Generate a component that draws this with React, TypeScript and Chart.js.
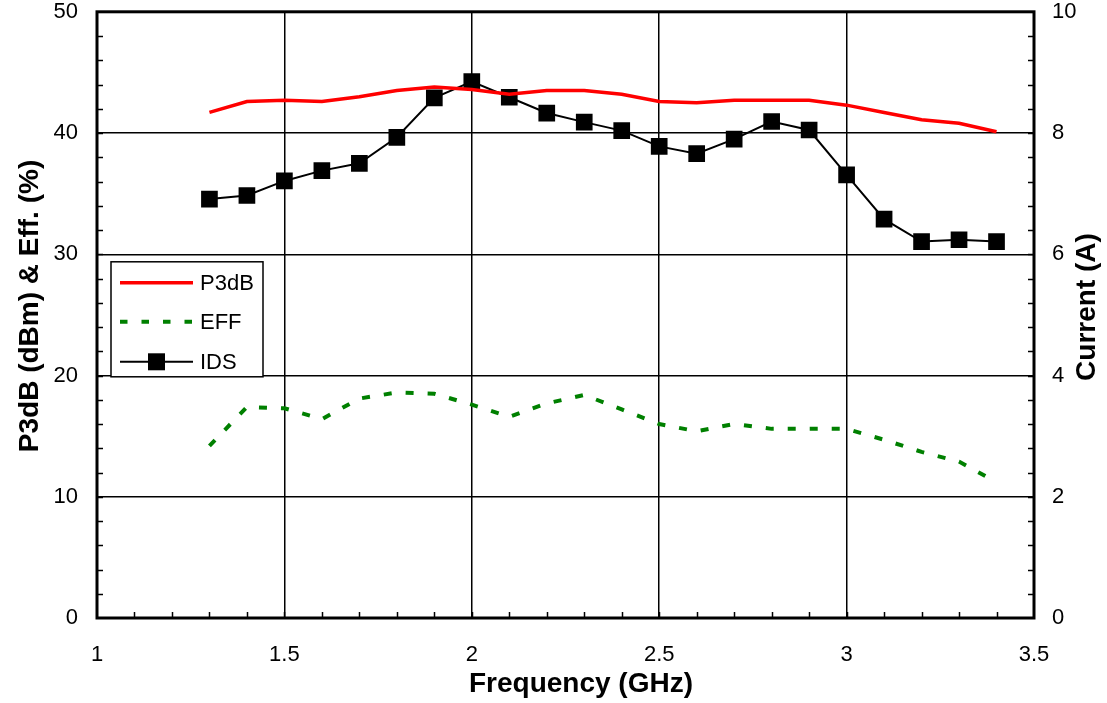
import React, { useEffect, useRef } from "react";
import { Chart, registerables } from "chart.js";

Chart.register(...registerables);

// ---- Data ----
const frequencies = [1.3, 1.4, 1.5, 1.6, 1.7, 1.8, 1.9, 2.0, 2.1, 2.2, 2.3, 2.4, 2.5, 2.6, 2.7, 2.8, 2.9, 3.0, 3.1, 3.2, 3.3, 3.4];
const p3dbValues = [41.7, 42.6, 42.7, 42.6, 43.0, 43.5, 43.8, 43.6, 43.2, 43.5, 43.5, 43.2, 42.6, 42.5, 42.7, 42.7, 42.7, 42.3, 41.7, 41.1, 40.8, 40.1];
const effValues = [14.2, 17.4, 17.3, 16.4, 18.1, 18.6, 18.5, 17.6, 16.6, 17.7, 18.4, 17.2, 16.0, 15.4, 16.0, 15.6, 15.6, 15.6, 14.7, 13.7, 12.9, 11.2];
const idsValues = [6.91, 6.97, 7.21, 7.38, 7.5, 7.93, 8.58, 8.85, 8.59, 8.33, 8.18, 8.04, 7.78, 7.66, 7.9, 8.19, 8.05, 7.31, 6.58, 6.21, 6.24, 6.21];

const xTickValues = [1, 1.5, 2, 2.5, 3, 3.5];
const leftTickValues = [0, 10, 20, 30, 40, 50];
const rightTickValues = [0, 2, 4, 6, 8, 10];

const seriesNames = ["P3dB", "EFF", "IDS"];
const xTitle = "Frequency (GHz)";
const leftTitle = "P3dB (dBm) & Eff. (%)";
const rightTitle = "Current (A)";

const FONT = "'Liberation Sans', Arial, sans-serif";
const RED = "#ff0000";
const GREEN = "#008000";
const BLACK = "#000000";

const toPoints = (ys: number[]) => frequencies.map((x, i) => ({ x, y: ys[i] }));

const decorPlugin = {
  id: "decor",
  afterDatasetsDraw(chart: any) {
    const { ctx, chartArea, scales } = chart;
    const { left, right, top, bottom } = chartArea;
    ctx.save();

    // minor ticks (inward)
    ctx.strokeStyle = BLACK;
    ctx.lineWidth = 1.5;
    ctx.beginPath();
    const len = 6;
    for (let i = 1; i < 25; i++) {
      const v = 1 + i * 0.1;
      const px = Math.round(scales.x.getPixelForValue(v)) + 0.5;
      ctx.moveTo(px, bottom);
      ctx.lineTo(px, bottom - len);
    }
    for (let i = 1; i < 25; i++) {
      const v = i * 2;
      const py = Math.round(scales.y.getPixelForValue(v)) + 0.5;
      ctx.moveTo(left, py);
      ctx.lineTo(left + len, py);
      const v1 = i * 0.4;
      const py1 = Math.round(scales.y1.getPixelForValue(v1)) + 0.5;
      ctx.moveTo(right, py1);
      ctx.lineTo(right - len, py1);
    }
    ctx.stroke();

    // frame
    ctx.lineWidth = 3;
    ctx.strokeRect(left, top, right - left, bottom - top);

    // legend
    const lx = left + 14;
    const ly = top + 250;
    const lw = 152;
    const lh = 115;
    ctx.fillStyle = "#ffffff";
    ctx.fillRect(lx, ly, lw, lh);
    ctx.lineWidth = 1.5;
    ctx.strokeStyle = BLACK;
    ctx.strokeRect(lx, ly, lw, lh);

    const rows = [ly + 21, ly + 60, ly + 100];
    const sx0 = lx + 9;
    const sx1 = lx + 82;
    // P3dB
    ctx.beginPath();
    ctx.strokeStyle = RED;
    ctx.lineWidth = 3.5;
    ctx.moveTo(sx0, rows[0]);
    ctx.lineTo(sx1, rows[0]);
    ctx.stroke();
    // EFF
    ctx.beginPath();
    ctx.strokeStyle = GREEN;
    ctx.lineWidth = 4;
    ctx.setLineDash([7.5, 14]);
    ctx.moveTo(sx0, rows[1]);
    ctx.lineTo(sx1, rows[1]);
    ctx.stroke();
    ctx.setLineDash([]);
    // IDS
    ctx.beginPath();
    ctx.strokeStyle = BLACK;
    ctx.lineWidth = 2;
    ctx.moveTo(sx0, rows[2]);
    ctx.lineTo(sx1, rows[2]);
    ctx.stroke();
    ctx.fillStyle = BLACK;
    const mx = (sx0 + sx1) / 2;
    ctx.fillRect(mx - 8.5, rows[2] - 8.5, 17, 17);

    ctx.fillStyle = BLACK;
    ctx.font = `22px ${FONT}`;
    ctx.textAlign = "left";
    ctx.textBaseline = "middle";
    seriesNames.forEach((n, i) => ctx.fillText(n, lx + 89, rows[i] + 1));

    // axis titles
    ctx.font = `bold 28px ${FONT}`;
    ctx.textBaseline = "alphabetic";
    ctx.textAlign = "center";
    ctx.fillText(xTitle, 581, 692);

    ctx.save();
    ctx.translate(37.5, 306);
    ctx.rotate(-Math.PI / 2);
    ctx.fillText(leftTitle, 0, 0);
    ctx.restore();

    ctx.save();
    ctx.translate(1095, 307);
    ctx.rotate(-Math.PI / 2);
    ctx.fillText(rightTitle, 0, 0);
    ctx.restore();

    ctx.restore();
  },
};

export default function App() {
  const canvasRef = useRef<HTMLCanvasElement | null>(null);

  useEffect(() => {
    document.body.style.margin = "0";
    const canvas = canvasRef.current;
    if (!canvas) return;
    const tickFont = { family: FONT, size: 22 };
    const chart = new Chart(canvas, {
      type: "line",
      data: {
        datasets: [
          {
            label: seriesNames[0],
            data: toPoints(p3dbValues),
            borderColor: RED,
            backgroundColor: RED,
            borderWidth: 3.5,
            pointRadius: 0,
            yAxisID: "y",
            tension: 0,
          },
          {
            label: seriesNames[1],
            data: toPoints(effValues),
            borderColor: GREEN,
            backgroundColor: GREEN,
            borderWidth: 4,
            borderDash: [8, 14],
            pointRadius: 0,
            yAxisID: "y",
            tension: 0,
          },
          {
            label: seriesNames[2],
            data: toPoints(idsValues),
            borderColor: BLACK,
            backgroundColor: BLACK,
            borderWidth: 2,
            pointStyle: "rect",
            pointRadius: 11.8,
            pointBorderWidth: 0,
            pointBackgroundColor: BLACK,
            yAxisID: "y1",
            tension: 0,
          },
        ],
      },
      options: {
        animation: false,
        responsive: false,
        devicePixelRatio: 1,
        layout: { padding: { top: 1, left: 0, right: 0, bottom: 0 } },
        plugins: {
          legend: { display: false },
          tooltip: { enabled: false },
        },
        scales: {
          x: {
            type: "linear",
            min: 1,
            max: 3.5,
            afterBuildTicks: (scale: any) => {
              scale.ticks = xTickValues.map((value) => ({ value }));
            },
            afterFit: (scale: any) => {
              scale.height = 85;
            },
            ticks: {
              font: tickFont,
              color: BLACK,
              padding: 24,
              maxRotation: 0,
              callback: (v: any) => String(v),
            },
            grid: { color: BLACK, lineWidth: 1.5, drawTicks: false },
            border: { display: false },
          },
          y: {
            type: "linear",
            position: "left",
            min: 0,
            max: 50,
            afterBuildTicks: (scale: any) => {
              scale.ticks = leftTickValues.map((value) => ({ value }));
            },
            afterFit: (scale: any) => {
              scale.width = 97;
              scale.paddingTop = 0;
            },
            ticks: {
              font: tickFont,
              color: BLACK,
              padding: 19,
              callback: (v: any) => String(v),
            },
            grid: { color: BLACK, lineWidth: 1.5, drawTicks: false },
            border: { display: false },
          },
          y1: {
            type: "linear",
            position: "right",
            min: 0,
            max: 10,
            afterBuildTicks: (scale: any) => {
              scale.ticks = rightTickValues.map((value) => ({ value }));
            },
            afterFit: (scale: any) => {
              scale.width = 73;
              scale.paddingTop = 0;
            },
            ticks: {
              font: tickFont,
              color: BLACK,
              padding: 18,
              callback: (v: any) => String(v),
            },
            grid: { drawOnChartArea: false, drawTicks: false },
            border: { display: false },
          },
        },
      },
      plugins: [decorPlugin],
    } as any);
    return () => chart.destroy();
  }, []);

  return (
    <div style={{ position: "absolute", left: 0, top: 0, width: 1107, height: 703, background: "#fff" }}>
      <canvas ref={canvasRef} width={1107} height={703} style={{ display: "block" }} />
    </div>
  );
}
